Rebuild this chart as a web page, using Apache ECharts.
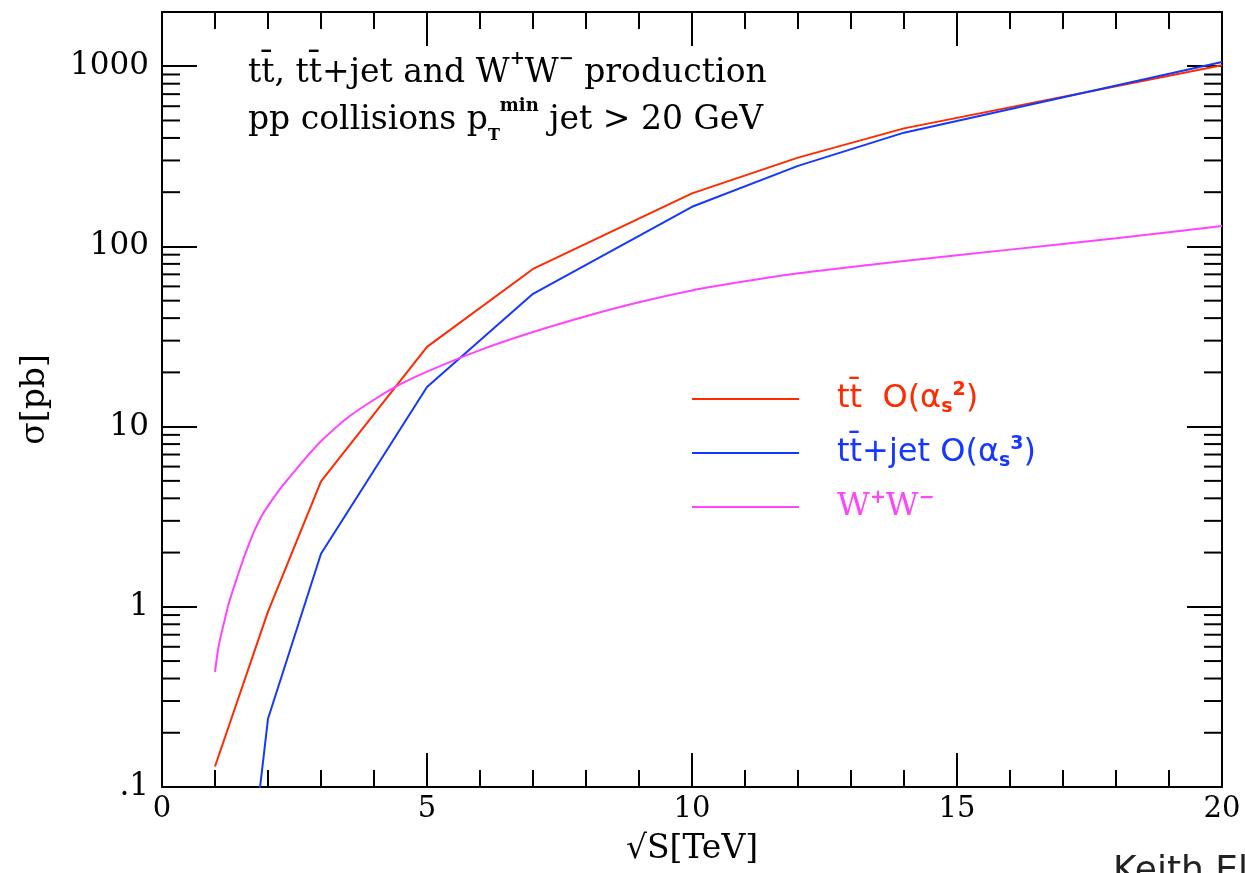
<!DOCTYPE html>
<html><head><meta charset="utf-8">
<script src="https://cdn.jsdelivr.net/npm/echarts@6/dist/echarts.min.js"></script>
<style>html,body{margin:0;padding:0;background:#fff}#c{width:1245px;height:873px}</style>
</head><body><div id="c"></div>
<script>
// ---- data ----
const sqrtS_tt = [1, 2, 3, 5, 7, 10, 12, 14, 20];
const sigma_tt = [0.13, 0.94, 4.97, 27.7, 75, 197, 311, 452, 1013];
const sqrtS_ttjet = [1, 2, 3, 5, 7, 10, 12, 14, 20];
const sigma_ttjet = [0.0007, 0.239, 1.97, 16.6, 54.6, 166, 280, 428, 1057];
const sqrtS_ww = [1, 1.05, 1.1, 1.18, 1.25, 1.35, 1.5, 1.62, 1.75, 1.87, 2, 2.25, 2.5, 2.75, 3, 3.5, 4, 4.5, 5, 6, 7, 8, 9, 10, 11, 12, 13, 14, 16, 18, 20];
const sigma_ww = [0.435, 0.56, 0.67, 0.84, 1.02, 1.27, 1.72, 2.15, 2.67, 3.15, 3.63, 4.6, 5.65, 6.9, 8.3, 11.2, 14.1, 17.2, 20.2, 26.6, 33.5, 41, 49, 57, 64, 71, 77, 83, 96, 111, 130];
const xRange = [0, 20];
const yRange = [0.1, 2000];
const yMinorTicks = [0.2, 0.3, 0.4, 0.5, 0.6, 0.7, 0.8, 0.9,
  2, 3, 4, 5, 6, 7, 8, 9,
  20, 30, 40, 50, 60, 70, 80, 90,
  200, 300, 400, 500, 600, 700, 800, 900, 2000];

// ---- styles ----
const RED = '#ff2a00', BLUE = '#1438ff', MAG = '#ff44ff';
const SERIF = '"DejaVu Serif", serif';
const SANS = '"DejaVu Sans", sans-serif';
const toPairs = (xs, ys) => xs.map((x, i) => [x, ys[i]]);

const legendText = {
  tt: '{t|tt\u0304  O(\u03b1}{sub|s}{sup|2}{t|)}',
  ttjet: '{t|tt\u0304+jet O(\u03b1}{sub|s}{sup|3}{t|)}',
  ww: '{w|W}{sup|+}{w|W}{sup|\u2212}'
};
function legendRich(color) {
  return {
    t: {fontFamily: SANS, fontSize: 32, color: color, lineHeight: 36},
    w: {fontFamily: SERIF, fontSize: 32, color: color, lineHeight: 36},
    sup: {fontFamily: SANS, fontSize: 19, fontWeight: 'bold', color: color, verticalAlign: 'top', lineHeight: 22},
    sub: {fontFamily: SANS, fontSize: 19, fontWeight: 'bold', color: color, verticalAlign: 'bottom', lineHeight: 22}
  };
}

const axisLineStyle = {color: '#000', width: 2};
const xAxisBase = {
  type: 'value', min: xRange[0], max: xRange[1], interval: 5,
  axisLine: {show: true, onZero: false, lineStyle: axisLineStyle},
  axisTick: {show: true, inside: true, length: 34, lineStyle: axisLineStyle},
  minorTick: {show: true, splitNumber: 5, length: 17, lineStyle: axisLineStyle},
  splitLine: {show: false}, minorSplitLine: {show: false}
};
const yAxisBase = {
  type: 'log', logBase: 10, min: yRange[0], max: yRange[1],
  axisLine: {show: true, onZero: false, lineStyle: axisLineStyle},
  axisTick: {show: true, inside: true, length: 35, lineStyle: axisLineStyle},
  minorTick: {show: false},
  splitLine: {show: false}, minorSplitLine: {show: false}
};

const chart = echarts.init(document.getElementById('c'), null, {renderer: 'canvas'});
chart.setOption({
  animation: false,
  backgroundColor: '#fff',
  grid: {left: 162, right: 23, top: 12, bottom: 86},
  title: {
    left: 243, top: 45,
    text: '{a|tt\u0304, tt\u0304+jet and W}{sup|+}{a|W}{sup|\u2212}{a| production}\n{a|pp collisions p}{sub|T}{sup|min}{a| jet > 20 GeV}',
    textStyle: {
      color: '#000', fontWeight: 'normal',
      rich: {
        a: {fontFamily: SERIF, fontSize: 33, fontWeight: 'normal', color: '#000', lineHeight: 47},
        sup: {fontFamily: SERIF, fontSize: 18, fontWeight: 'bold', color: '#000', verticalAlign: 'top', lineHeight: 38},
        sub: {fontFamily: SERIF, fontSize: 16, fontWeight: 'bold', color: '#000', verticalAlign: 'bottom', lineHeight: 36}
      }
    }
  },
  legend: {
    orient: 'vertical', left: 687, top: 376,
    itemWidth: 107, itemHeight: 2, itemGap: 18, icon: 'rect',
    formatter: name => legendText[name],
    textStyle: {padding: [0, 0, 0, 33]},
    data: [
      {name: 'tt', textStyle: {color: RED, rich: legendRich(RED)}},
      {name: 'ttjet', textStyle: {color: BLUE, rich: legendRich(BLUE)}},
      {name: 'ww', textStyle: {color: MAG, rich: legendRich(MAG)}}
    ]
  },
  xAxis: [
    Object.assign({}, xAxisBase, {
      position: 'bottom',
      axisLabel: {show: true, margin: 8, fontFamily: SERIF, fontSize: 29, color: '#000'},
      name: '\u221aS[TeV]', nameLocation: 'middle', nameGap: 46,
      nameTextStyle: {fontFamily: SERIF, fontSize: 33, color: '#000'}
    }),
    Object.assign({}, xAxisBase, {position: 'top', axisLabel: {show: false}})
  ],
  yAxis: [
    Object.assign({}, yAxisBase, {
      position: 'left',
      axisLabel: {show: true, margin: 13, fontFamily: SERIF, fontSize: 31, color: '#000',
        showMaxLabel: false, showMinLabel: true,
        formatter: v => (v < 1 ? '.1' : String(Math.round(v)))},
      name: '\u03c3[pb]', nameLocation: 'middle', nameRotate: 90, nameGap: 110,
      nameTextStyle: {fontFamily: SERIF, fontSize: 33, color: '#000'}
    }),
    Object.assign({}, yAxisBase, {position: 'right', axisLabel: {show: false}})
  ],
  graphic: [{
    type: 'text', left: 1113, top: 854,
    style: {text: 'Keith Ellis', font: '36px "DejaVu Sans", sans-serif', fill: '#222'}
  }],
  series: [
    {name: 'tt', type: 'line', data: toPairs(sqrtS_tt, sigma_tt), showSymbol: false, symbol: 'none',
      lineStyle: {color: RED, width: 2}, itemStyle: {color: RED}},
    {name: 'ttjet', type: 'line', data: toPairs(sqrtS_ttjet, sigma_ttjet), showSymbol: false, symbol: 'none',
      lineStyle: {color: BLUE, width: 2}, itemStyle: {color: BLUE}},
    {name: 'ww', type: 'line', data: toPairs(sqrtS_ww, sigma_ww), showSymbol: false, symbol: 'none',
      smooth: 0.2,
      lineStyle: {color: MAG, width: 2}, itemStyle: {color: MAG}},
    {
      name: 'minorTicks', type: 'custom', silent: true, clip: false,
      data: yMinorTicks.map(v => [xRange[0], v]),
      renderItem: function (params, api) {
        const v = api.value(1);
        const l = api.coord([xRange[0], v]);
        const r = api.coord([xRange[1], v]);
        const st = {stroke: '#000', lineWidth: 2};
        return {type: 'group', children: [
          {type: 'line', shape: {x1: l[0], y1: l[1], x2: l[0] + 18, y2: l[1]}, style: st},
          {type: 'line', shape: {x1: r[0] - 18, y1: r[1], x2: r[0], y2: r[1]}, style: st}
        ]};
      }
    }
  ]
});
</script>
</body></html>
